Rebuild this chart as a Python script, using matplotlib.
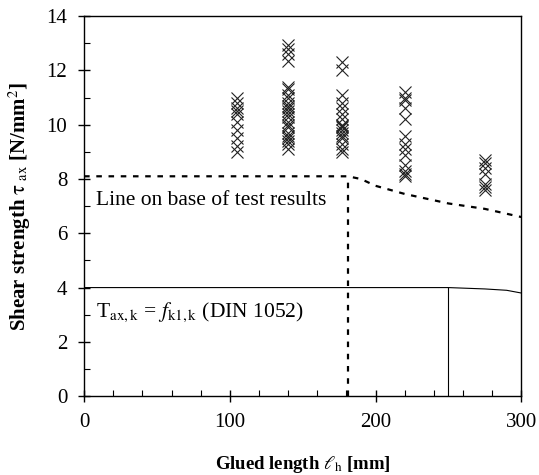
import matplotlib
matplotlib.use("Agg")
import matplotlib.pyplot as plt
from matplotlib.ticker import MultipleLocator

plt.rcParams["font.family"] = "Liberation Serif"
plt.rcParams["mathtext.fontset"] = "stix"

# test results: glued length (mm) and shear strength (N/mm2)
len_105 = [11.0, 10.8, 10.6, 10.5, 10.4, 10.1, 9.8, 9.5, 9.2, 9.0]
len_140 = [12.95, 12.8, 12.6, 12.35, 11.4, 11.3, 11.1, 11.0, 10.8, 10.7, 10.6,
           10.5, 10.4, 10.3, 10.1, 10.0, 9.9, 9.7, 9.6, 9.5, 9.4, 9.3, 9.1]
len_177 = [12.3, 12.0, 11.1, 10.8, 10.6, 10.4, 10.2, 10.0, 9.95, 9.9, 9.8,
           9.7, 9.6, 9.5, 9.3, 9.1, 9.0]
len_220 = [11.2, 11.0, 10.9, 10.6, 10.2, 9.6, 9.3, 9.1, 8.9, 8.5, 8.3, 8.2, 8.1]
len_275 = [8.7, 8.6, 8.4, 8.2, 7.8, 7.7, 7.6]
groups = [(105, len_105), (140, len_140), (177, len_177), (220, len_220), (275, len_275)]

# line on base of test results
test_x = [0, 181, 181, 190, 200, 220, 250, 275, 300]
test_y = [8.1, 8.1, 8.1, 8.0, 7.75, 7.45, 7.1, 6.9, 6.6]
cut_x = [181, 181]
cut_y = [0, 8.1]

# DIN 1052 characteristic value
din_x = [0, 250, 275, 290, 300]
din_y = [4.0, 4.0, 3.95, 3.9, 3.8]
din_cut_x = [250, 250]
din_cut_y = [0, 4.0]

fig = plt.figure(figsize=(5.39, 4.75), dpi=100)
ax = fig.add_axes([0.156, 0.166, 0.811, 0.8])

for x0, vals in groups:
    ax.plot([x0] * len(vals), vals, ls="none", marker="x", ms=9, mew=0.8,
            color="#222222")

ax.plot(test_x, test_y, color="black", lw=1.6, ls=(0, (2.5, 3)))
ax.plot(cut_x, cut_y, color="black", lw=1.6, ls=(0, (2.5, 3)))
ax.plot(din_x, din_y, color="black", lw=0.8)
ax.plot(din_cut_x, din_cut_y, color="black", lw=0.8)

ax.text(8, 7.2, "Line on base of test results", fontsize=15.5, va="center")
ax.text(8, 3.1, r"T$_{\rm ax,k}$ = $f_{\rm k1,k}$ (DIN 1052)", fontsize=15.5,
        va="center")

ax.set_xlim(0, 300)
ax.set_ylim(0, 14)
ax.xaxis.set_major_locator(MultipleLocator(100))
ax.xaxis.set_minor_locator(MultipleLocator(20))
ax.yaxis.set_major_locator(MultipleLocator(2))
ax.yaxis.set_minor_locator(MultipleLocator(1))
ax.tick_params(which="major", direction="inout", length=8, width=1,
               labelsize=15, pad=8)
ax.tick_params(which="minor", direction="in", length=4, width=0.8)
for s in ax.spines.values():
    s.set_linewidth(1.0)

ax.set_xlabel(r"Glued length $\ell_{\rm h}$ [mm]", fontsize=13.5,
              fontweight="bold", labelpad=16)
ax.set_ylabel(r"Shear strength $\mathrm{\tau}_{\rm\ ax}$ [N/mm$^2$]", fontsize=15,
              fontweight="bold", labelpad=10)

fig.savefig("out.png", dpi=100)
